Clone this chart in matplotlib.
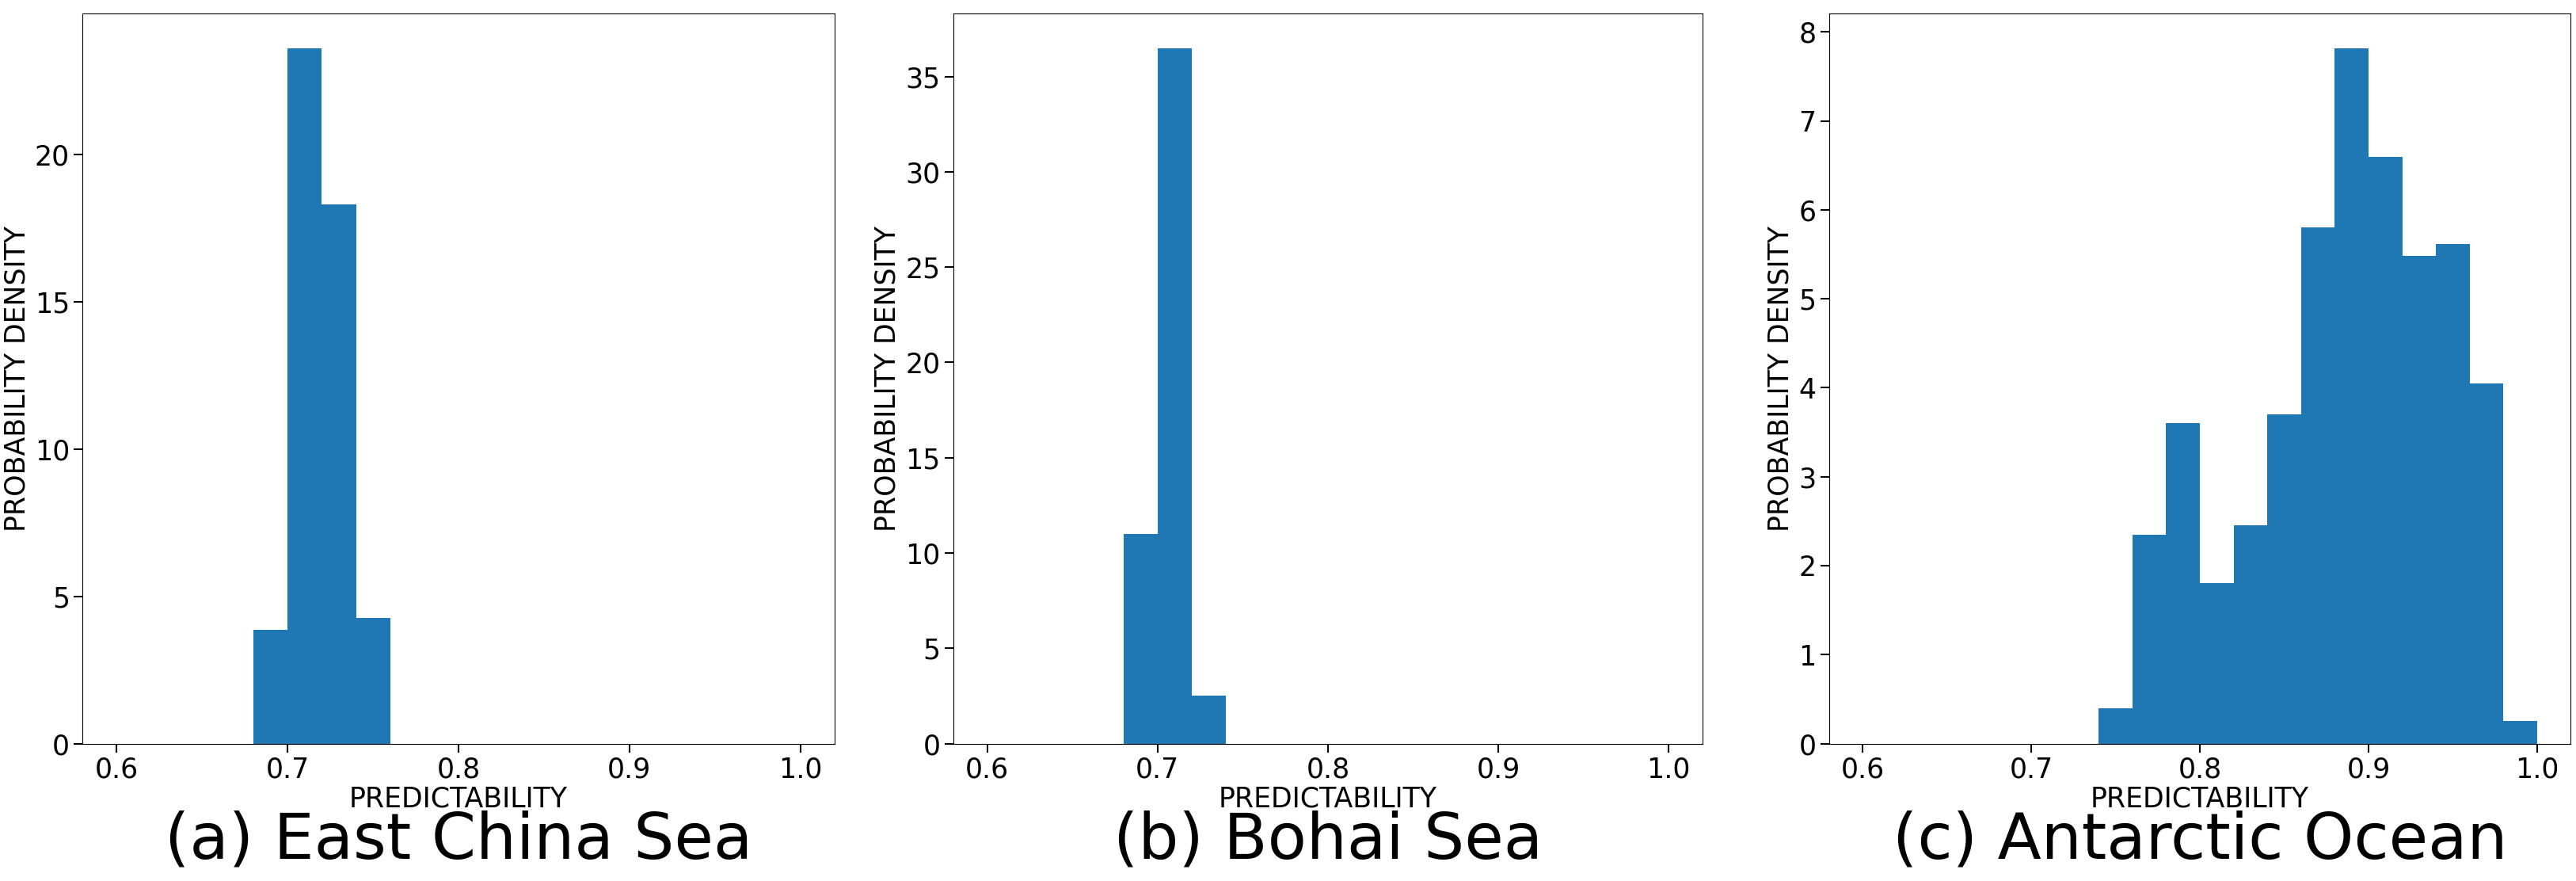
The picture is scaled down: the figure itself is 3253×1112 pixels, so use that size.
import numpy as np
import matplotlib
matplotlib.use("Agg")
import matplotlib.pyplot as plt

titles = ["(a) East China Sea", "(b) Bohai Sea", "(c) Antarctic Ocean"]
starts = [0.68, 0.68, 0.74]
bin_width = 0.02
dens_a = [3.85, 23.6, 18.3, 4.25]
dens_b = [11.0, 36.5, 2.5]
dens_c = [0.4, 2.35, 3.6, 1.8, 2.45, 3.7, 5.8, 7.82, 6.6, 5.48, 5.62, 4.05, 0.25]
densities = [dens_a, dens_b, dens_c]
xticks = [0.6, 0.7, 0.8, 0.9, 1.0]

fig = plt.figure(figsize=(32.53, 11.12), dpi=100)
lefts = [0.032, 0.370, 0.710]
widths = [0.292, 0.291, 0.288]
for i in range(3):
    ax = fig.add_axes([lefts[i], 0.156, widths[i], 0.829])
    d = densities[i]
    edges = starts[i] + bin_width * np.arange(len(d))
    ax.bar(edges, d, width=bin_width, align='edge', color='#1f77b4')
    ax.set_xlim(0.58, 1.02)
    ax.set_xticks(xticks)
    ax.set_xticklabels([f"{v:.1f}" for v in xticks])
    ax.tick_params(labelsize=25, length=8, width=1.5)
    ax.set_xlabel("PREDICTABILITY", fontsize=25, labelpad=2)
    ax.set_ylabel("PROBABILITY DENSITY", fontsize=25)
    ax.margins(y=0.05)
    ax.set_ylim(0, max(d) * 1.05)
    fig.text(lefts[i] + widths[i] / 2, 0.045, titles[i], ha='center', va='center', fontsize=58)

fig.savefig("out.png", dpi=100)
